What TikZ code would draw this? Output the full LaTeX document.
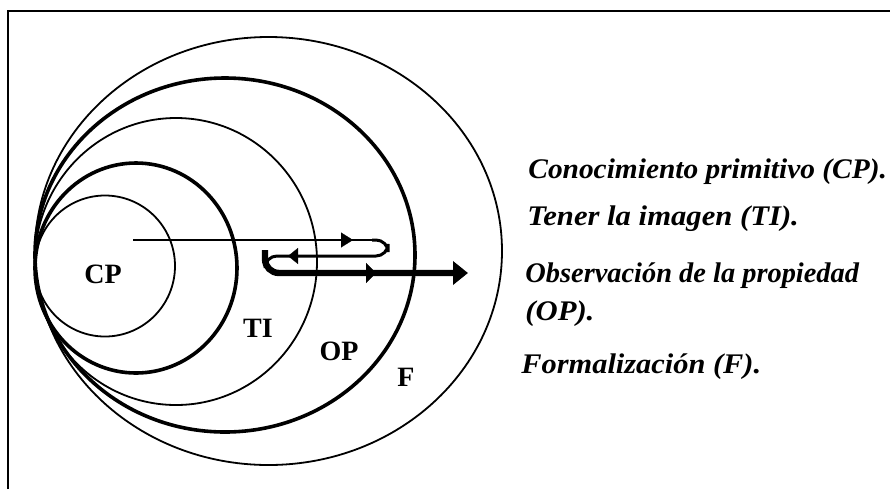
\documentclass[tikz,border=0pt]{standalone}
\usepackage{fontspec}
\setmainfont{Liberation Serif}
\usetikzlibrary{arrows.meta}
\begin{document}
\begin{tikzpicture}[x=0.5pt,y=-0.5pt,
  thinring/.style={line width=0.9pt},
  thickring/.style={line width=1.8pt},
  legend/.style={anchor=base west,font=\fontsize{14.2}{16}\selectfont\bfseries\itshape,inner sep=0},
  zone/.style={font=\fontsize{14}{16}\selectfont\bfseries,inner sep=0}]
\useasboundingbox (0,0) rectangle (890,489);
\draw[line width=1.2pt] (8,489) -- (8,11) -- (890,11);
% rings
\draw[thinring]  (105,266)   ellipse [x radius=70,    y radius=70.5];
\draw[thickring] (136,268)   ellipse [x radius=101,   y radius=105];
\draw[thinring]  (176,261.5) ellipse [x radius=141,   y radius=143.5];
\draw[thickring] (225,255)   ellipse [x radius=190,   y radius=177];
\draw[thinring]  (268.5,251) ellipse [x radius=233.5, y radius=214];
% path points
\coordinate (s)  at (133,240);
\coordinate (r1) at (388,240);
\coordinate (r2) at (388,256);
\coordinate (l1) at (265,256);
\coordinate (l2) at (265,273);
\coordinate (e)  at (468,273);
\coordinate (a1s) at (330,240);
\coordinate (a1e) at (353,240);
\coordinate (a2s) at (310,256);
\coordinate (a2e) at (288,256);
\coordinate (a3s) at (350,273);
\coordinate (a3e) at (376,273);
% connectors
\draw[line width=1pt] (s) -- ([xshift=-6]r1);
\draw[line width=1.5pt,rounded corners=6] ([xshift=-8]r1) -- (r1) -- (r2) -- (l1) -- (l2) -- ([xshift=12]l2);
\draw[line width=3.2pt,rounded corners=7,-{Triangle[length=7.5pt,width=11.5pt]}] ([yshift=3]l1) -- (l2) -- (e);
\draw[line width=0.1pt,-{Triangle[length=6pt,width=7.5pt]}] (a1s) -- (a1e);
\draw[line width=0.1pt,-{Triangle[length=5pt,width=8pt]}] (a2s) -- (a2e);
\draw[line width=0.1pt,-{Triangle[length=5pt,width=10pt]}] (a3s) -- (a3e);
% zone labels
\node[zone] (cp) at (103,274) {CP};
\node[zone] (ti) at (258,328) {TI};
\node[zone] (op) at (339,351) {OP};
\node[zone] (f)  at (406,377) {F};
% legend
\node[legend] (lcp) at (528,178) {\scalebox{1.035}[1]{Conocimiento primitivo (CP).}};
\node[legend] (lti) at (527,225) {\scalebox{1.08}[1]{Tener la imagen (TI).}};
\node[legend] (lop) at (525,282) {Observación de la propiedad};
\node[legend] (lop2) at (525,320) {\scalebox{1.08}[1]{(OP).}};
\node[legend] (lf) at (521,373) {\scalebox{1.07}[1]{Formalización (F).}};
\end{tikzpicture}
\end{document}
